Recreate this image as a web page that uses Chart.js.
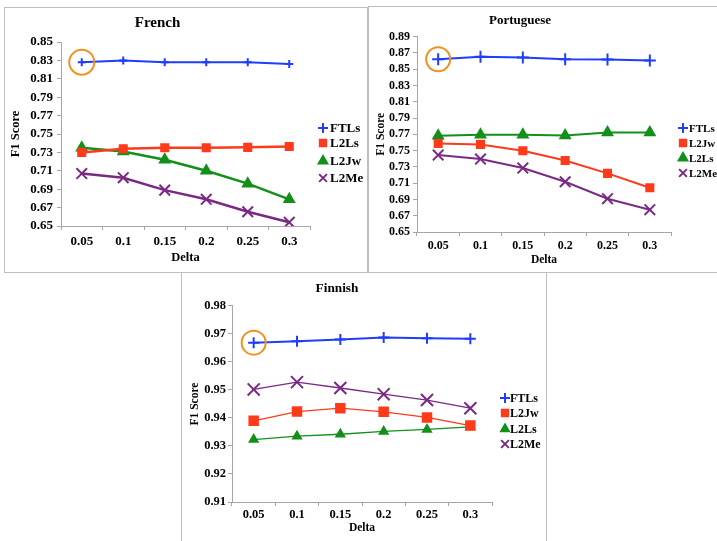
<!DOCTYPE html>
<html>
<head>
<meta charset="utf-8">
<script src="https://cdn.jsdelivr.net/npm/chart.js@4.4.0/dist/chart.umd.min.js"></script>
<style>
body{margin:0;background:#fff;width:717px;height:541px;overflow:hidden;position:relative;}
.box{position:absolute;border:1.5px solid #bdbdbd;box-sizing:border-box;}
canvas{position:absolute;}
</style>
</head>
<body>
<div class="box" style="left:4px;top:7px;width:364px;height:266px"></div>
<div class="box" style="left:368px;top:6px;width:360px;height:267px"></div>
<div class="box" style="left:181px;top:272px;width:366px;height:280px"></div>
<canvas id="french" width="362" height="264" style="left:5px;top:8px"></canvas>
<canvas id="portuguese" width="348" height="265" style="left:369px;top:7px"></canvas>
<canvas id="finnish" width="364" height="268" style="left:182px;top:273px"></canvas>
<script>
// data
const deltas = ["0.05", "0.1", "0.15", "0.2", "0.25", "0.3"];

const frFTLs = [0.828, 0.830, 0.828, 0.828, 0.828, 0.826];
const frL2Ls = [0.730, 0.734, 0.735, 0.735, 0.7355, 0.7365];
const frL2Jw = [0.735, 0.731, 0.722, 0.710, 0.696, 0.679];
const frL2Me = [0.707, 0.7025, 0.689, 0.679, 0.6655, 0.654];
const frTicks = [0.65, 0.67, 0.69, 0.71, 0.73, 0.75, 0.77, 0.79, 0.81, 0.83, 0.85];

const ptFTLs = [0.8622, 0.8651, 0.8642, 0.8622, 0.862, 0.8606];
const ptL2Jw = [0.7588, 0.7576, 0.7498, 0.7379, 0.722, 0.7044];
const ptL2Ls = [0.7682, 0.7694, 0.7694, 0.7686, 0.7722, 0.7722];
const ptL2Me = [0.7445, 0.7396, 0.7285, 0.7117, 0.6909, 0.6774];
const ptTicks = [0.65, 0.67, 0.69, 0.71, 0.73, 0.75, 0.77, 0.79, 0.81, 0.83, 0.85, 0.87, 0.89];

const fiFTLs = [0.9669, 0.9674, 0.968, 0.9687, 0.9685, 0.9683];
const fiL2Jw = [0.939, 0.9423, 0.9435, 0.9422, 0.9402, 0.9373];
const fiL2Ls = [0.9323, 0.9335, 0.9342, 0.9352, 0.9359, 0.9368];
const fiL2Me = [0.9502, 0.9528, 0.9507, 0.9485, 0.9464, 0.9435];
const fiTicks = [0.91, 0.92, 0.93, 0.94, 0.95, 0.96, 0.97, 0.98];

const BLUE = "#1f3dff";
const RED = "#ff3a1a";
const GREEN = "#12901a";
const PURPLE = "#7a2a84";
const AXIS = "#a6a6a6";
const SERIF = "'Liberation Serif', 'Times New Roman', serif";

/* ===========================
   PLUGINS
=========================== */

// orange ring round the first FTLs point
const ringPlugin = {
    id: "ring",
    afterDatasetsDraw(chart, args, opts){
        const pt = chart.getDatasetMeta(0).data[0];
        const c = chart.ctx;
        c.save();
        c.strokeStyle = "#f39020";
        c.lineWidth = 2;
        c.beginPath();
        c.arc(pt.x, pt.y, opts.r, 0, Math.PI * 2);
        c.stroke();
        c.restore();
    }
};

// excel style legend, marker then text
const legendPlugin = {
    id: "xlLegend",
    afterDraw(chart, args, opts){
        const c = chart.ctx;
        c.save();
        chart.data.datasets.forEach((ds, i) => {
            const y = opts.rows[i];
            c.strokeStyle = ds.borderColor;
            c.fillStyle = ds.borderColor;
            c.lineWidth = 2;
            Chart.helpers.drawPoint(c, {
                pointStyle: ds.pointStyle,
                radius: opts.marks[i],
                rotation: 0,
                borderWidth: 2
            }, opts.mx, y);
            c.fillStyle = "#000";
            c.font = "bold " + opts.size + "px " + SERIF;
            c.textBaseline = "middle";
            c.textAlign = "left";
            c.fillText(ds.label, opts.tx, y + 1);
        });
        c.restore();
    }
};

/* ===========================
   CHART BUILDER
=========================== */

function series(label, data, color, style, radius, width){
    return {
        label: label,
        data: data,
        borderColor: color,
        backgroundColor: color,
        pointBackgroundColor: color,
        pointBorderColor: color,
        pointStyle: style,
        pointRadius: radius,
        pointBorderWidth: 2,
        borderWidth: width,
        tension: 0
    };
}

function makeChart(id, title, datasets, ticks, L){

    return new Chart(document.getElementById(id), {
        type: "line",
        data: { labels: deltas, datasets: datasets },
        plugins: [ringPlugin, legendPlugin],
        options: {
            responsive: false,
            animation: false,
            layout: { padding: { left: 0, top: 0, right: L.padRight, bottom: 0 } },
            plugins: {
                legend: { display: false },
                tooltip: { enabled: false },
                title: {
                    display: true,
                    text: title,
                    color: "#000",
                    font: { family: SERIF, size: L.titleSize, weight: "bold" },
                    padding: { top: L.titleTop, bottom: L.titleBottom }
                },
                ring: { r: L.ring },
                xlLegend: L.legend
            },
            scales: {
                x: {
                    offset: true,
                    afterFit(scale){ scale.height = L.xHeight; },
                    grid: {
                        offset: true,
                        drawOnChartArea: false,
                        drawTicks: true,
                        tickLength: 4,
                        color: AXIS
                    },
                    border: { color: AXIS, width: 1 },
                    ticks: {
                        color: "#000",
                        padding: L.xTickPad,
                        autoSkip: false,
                        maxRotation: 0,
                        font: { family: SERIF, size: L.tickSize, weight: "bold" }
                    },
                    title: {
                        display: true,
                        text: "Delta",
                        color: "#000",
                        font: { family: SERIF, size: L.axisSize, weight: "bold" },
                        padding: { top: 0, bottom: L.xTitlePad }
                    }
                },
                y: {
                    min: ticks[0],
                    max: ticks[ticks.length - 1],
                    afterFit(scale){ scale.width = L.yWidth; },
                    afterBuildTicks(scale){
                        scale.ticks = ticks.map(v => ({ value: v }));
                    },
                    grid: {
                        drawOnChartArea: false,
                        drawTicks: true,
                        tickLength: 4,
                        color: AXIS
                    },
                    border: { color: AXIS, width: 1 },
                    ticks: {
                        color: "#000",
                        padding: L.yTickPad,
                        autoSkip: false,
                        font: { family: SERIF, size: L.tickSize, weight: "bold" },
                        callback: v => v.toFixed(2)
                    },
                    title: {
                        display: true,
                        text: "F1 Score",
                        color: "#000",
                        font: { family: SERIF, size: L.axisSize, weight: "bold" },
                        padding: { top: L.yTitlePad, bottom: 0 }
                    }
                }
            }
        }
    });
}

/* ===========================
   FRENCH
=========================== */

makeChart("french", "French", [
    series("FTLs", frFTLs, BLUE, "cross", 4, 2),
    series("L2Ls", frL2Ls, RED, "rect", 5, 2.5),
    series("L2Jw", frL2Jw, GREEN, "triangle", 5.5, 2.5),
    series("L2Me", frL2Me, PURPLE, "crossRot", 7.5, 2.5)
], frTicks, {
    padRight: 57, yWidth: 56, xHeight: 46,
    titleSize: 15, titleTop: 6, titleBottom: 10,
    tickSize: 13, axisSize: 12.5,
    yTickPad: 4, xTickPad: 4, yTitlePad: 3.5, xTitlePad: 6.5,
    ring: 12.5,
    legend: { mx: 318, tx: 325, size: 13, rows: [120, 135, 153, 170], marks: [5, 4.5, 5, 5.5] }
});

/* ===========================
   PORTUGUESE
=========================== */

makeChart("portuguese", "Portuguese", [
    series("FTLs", ptFTLs, BLUE, "cross", 6, 2),
    series("L2Jw", ptL2Jw, RED, "rect", 5, 2),
    series("L2Ls", ptL2Ls, GREEN, "triangle", 5.5, 2),
    series("L2Me", ptL2Me, PURPLE, "crossRot", 7.5, 2)
], ptTicks, {
    padRight: 46, yWidth: 48, xHeight: 40,
    titleSize: 13, titleTop: 6, titleBottom: 8,
    tickSize: 12, axisSize: 11.5,
    yTickPad: 3, xTickPad: 3, yTitlePad: 5, xTitlePad: 5,
    ring: 12,
    legend: { mx: 314, tx: 320, size: 11, rows: [121, 136, 151, 166], marks: [5, 4.5, 5, 5.5] }
});

/* ===========================
   FINNISH
=========================== */

makeChart("finnish", "Finnish", [
    series("FTLs", fiFTLs, BLUE, "cross", 5.5, 2),
    series("L2Jw", fiL2Jw, RED, "rect", 6, 1.3),
    series("L2Ls", fiL2Ls, GREEN, "triangle", 4.5, 1.3),
    series("L2Me", fiL2Me, PURPLE, "crossRot", 8.5, 1.3)
], fiTicks, {
    padRight: 54, yWidth: 50, xHeight: 39,
    titleSize: 13.3, titleTop: 8, titleBottom: 9,
    tickSize: 12.5, axisSize: 11.5,
    yTickPad: 2, xTickPad: 1.5, yTitlePad: 6, xTitlePad: 6,
    ring: 12,
    legend: { mx: 323, tx: 328, size: 12, rows: [125, 140, 156, 171], marks: [5, 4.5, 4.5, 5.5] }
});
</script>
</body>
</html>
